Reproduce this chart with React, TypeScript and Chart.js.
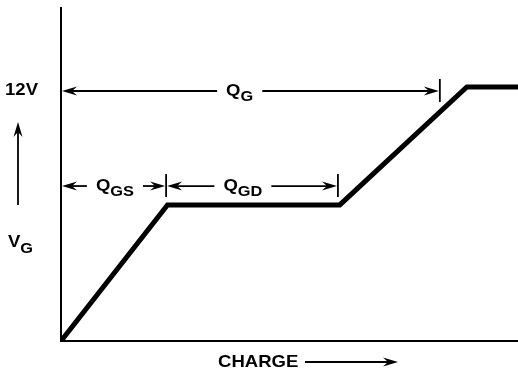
import { useEffect, useRef } from 'react';
import { Chart, registerables } from 'chart.js';

Chart.register(...registerables);

// ---- data ----
const charge = [0, 23.3, 61, 88.8, 100];
const gateVolts = [0, 6.43, 6.43, 12, 12];
const chargeMax = 100;
const voltMax = 15.73;
const yTickValues = [12];
const yTickLabels = ['12V'];
const dimSubs = ['G', 'GS', 'GD'];
const dimFrom = [0, 0, 23];
const dimTo = [82.9, 23, 60.6];
const dimLevel = [11.81, 7.32, 7.32];
const dimTextAt = [39.1, 11.8, 39.8];
const yTitleMain = 'V';
const yTitleSub = 'G';
const xTitle = 'CHARGE';

// ---- style ----
const FONT = "'Liberation Sans', Arial, Helvetica, sans-serif";
const SX = 1.09;
const MAIN = 17;
const SUB = 15;

function textW(ctx: CanvasRenderingContext2D, s: string, size: number) {
  ctx.font = `bold ${size}px ${FONT}`;
  return ctx.measureText(s).width * SX;
}

function drawText(ctx: CanvasRenderingContext2D, s: string, x: number, y: number, size: number) {
  ctx.save();
  ctx.font = `bold ${size}px ${FONT}`;
  ctx.textAlign = 'left';
  ctx.textBaseline = 'alphabetic';
  ctx.translate(x, y);
  ctx.scale(SX, 1);
  ctx.fillText(s, 0, 0);
  ctx.restore();
}

function subbedWidth(ctx: CanvasRenderingContext2D, main: string, sub: string) {
  return textW(ctx, main, MAIN) + textW(ctx, sub, SUB);
}

function drawSubbed(ctx: CanvasRenderingContext2D, main: string, sub: string, x: number, y: number) {
  const w = textW(ctx, main, MAIN);
  drawText(ctx, main, x, y, MAIN);
  drawText(ctx, sub, x + w, y + 5, SUB);
}

function arrow(ctx: CanvasRenderingContext2D, x1: number, y1: number, x2: number, y2: number) {
  const len = Math.hypot(x2 - x1, y2 - y1);
  if (len < 1) return;
  const dx = (x2 - x1) / len;
  const dy = (y2 - y1) / len;
  const L = 15;
  const W = 4.5;
  const N = 10;
  ctx.beginPath();
  ctx.moveTo(x1, y1);
  ctx.lineTo(x2 - dx * N, y2 - dy * N);
  ctx.stroke();
  const px = -dy;
  const py = dx;
  ctx.beginPath();
  ctx.moveTo(x2, y2);
  ctx.lineTo(x2 - dx * L + px * W, y2 - dy * L + py * W);
  ctx.lineTo(x2 - dx * N, y2 - dy * N);
  ctx.lineTo(x2 - dx * L - px * W, y2 - dy * L - py * W);
  ctx.closePath();
  ctx.fill();
}

const annotPlugin = {
  id: 'gateChargeAnnotations',
  afterDatasetsDraw(chart: any) {
    const { ctx, chartArea, scales } = chart;
    const xs = scales.x;
    const ys = scales.y;
    ctx.save();
    ctx.fillStyle = '#000';
    ctx.strokeStyle = '#000';
    ctx.lineWidth = 1.8;

    // y tick labels
    yTickValues.forEach((v, i) => {
      const py = ys.getPixelForValue(v);
      const w = textW(ctx, yTickLabels[i], MAIN);
      drawText(ctx, yTickLabels[i], chartArea.left - 23 - w, py + 8, MAIN);
    });

    // dimension arrows
    dimSubs.forEach((sub, i) => {
      const x1 = xs.getPixelForValue(dimFrom[i]);
      const x2 = xs.getPixelForValue(dimTo[i]);
      const py = ys.getPixelForValue(dimLevel[i]);
      const cx = xs.getPixelForValue(dimTextAt[i]);
      const w = subbedWidth(ctx, 'Q', sub);
      const left = cx - w / 2;
      drawSubbed(ctx, 'Q', sub, left, py + 5);
      arrow(ctx, left - 9, py, x1 + 1, py);
      arrow(ctx, left + w + 9, py, x2 - 1, py);
      ctx.beginPath();
      ctx.moveTo(x2, py - 12);
      ctx.lineTo(x2, py + 11);
      ctx.stroke();
    });

    // y title with arrow
    const L = chartArea.left;
    const T = chartArea.top;
    arrow(ctx, L - 43, T + 197, L - 43, T + 114);
    drawText(ctx, yTitleMain, L - 53, T + 239, MAIN);
    const vw = textW(ctx, yTitleMain, MAIN);
    drawText(ctx, yTitleSub, L - 53 + vw, T + 245, SUB);

    // x title with arrow
    const B = chartArea.bottom;
    drawText(ctx, xTitle, 218, B + 26, MAIN);
    arrow(ctx, 305, B + 21, 398, B + 21);

    ctx.restore();
  },
};

export default function App() {
  const ref = useRef<HTMLCanvasElement | null>(null);

  useEffect(() => {
    if (!ref.current) return;
    const chart = new Chart(ref.current, {
      type: 'line',
      data: {
        datasets: [
          {
            data: charge.map((c, i) => ({ x: c, y: gateVolts[i] })),
            borderColor: '#000',
            borderWidth: 5,
            pointRadius: 0,
            tension: 0,
            fill: false,
            borderJoinStyle: 'miter',
          },
        ],
      },
      options: {
        responsive: false,
        animation: false,
        events: [],
        layout: { padding: { top: 8, left: 0, right: 0, bottom: 0 }, autoPadding: false },
        plugins: { legend: { display: false }, tooltip: { enabled: false }, title: { display: false } },
        scales: {
          x: {
            type: 'linear',
            min: 0,
            max: chargeMax,
            ticks: { display: false },
            grid: { display: false },
            border: { display: true, color: '#000', width: 2 },
            afterFit: (s: any) => {
              s.height = 33;
            },
          },
          y: {
            type: 'linear',
            min: 0,
            max: voltMax,
            ticks: { display: false },
            grid: { display: false },
            border: { display: true, color: '#000', width: 2 },
            afterFit: (s: any) => {
              s.width = 61;
            },
          },
        },
      },
      plugins: [annotPlugin],
    } as any);
    return () => chart.destroy();
  }, []);

  return (
    <div style={{ position: 'absolute', left: 0, top: 0, width: 518, height: 374, background: '#fff' }}>
      <canvas ref={ref} width={518} height={374} />
    </div>
  );
}
